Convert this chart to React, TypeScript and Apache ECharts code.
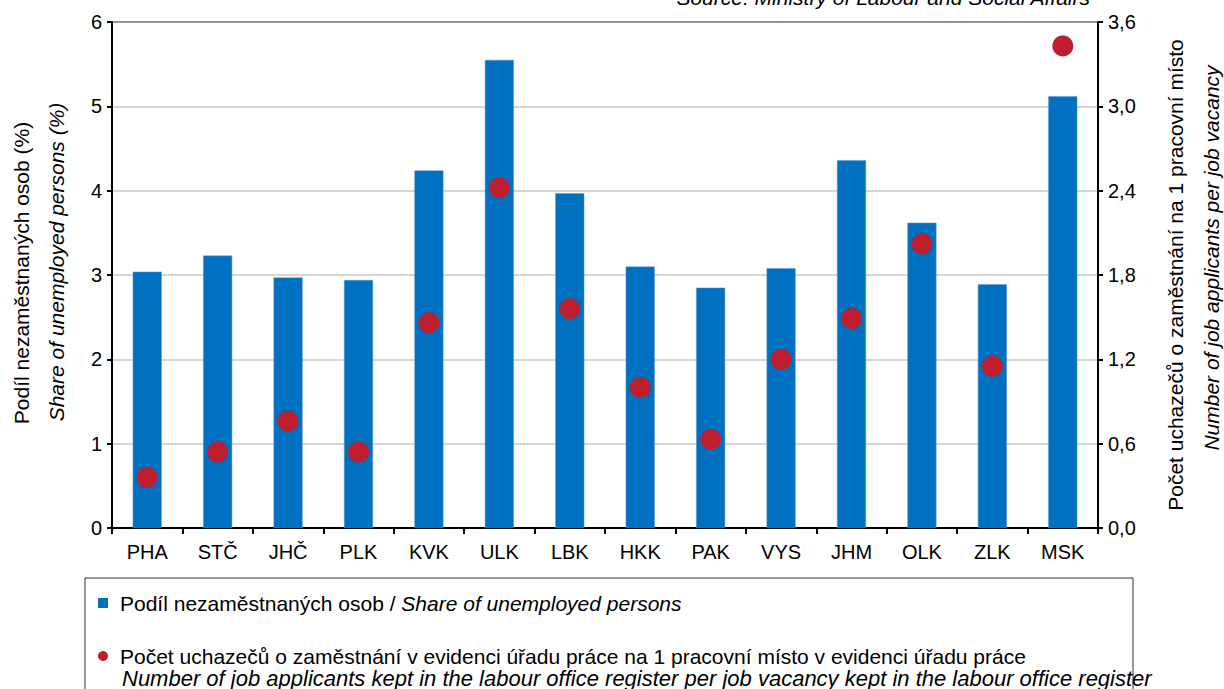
import React, { useEffect, useRef } from "react";
import * as echarts from "echarts";

const categories = ["PHA", "STČ", "JHČ", "PLK", "KVK", "ULK", "LBK", "HKK", "PAK", "VYS", "JHM", "OLK", "ZLK", "MSK"];
const shareUnemployed = [3.04, 3.23, 2.97, 2.94, 4.24, 5.55, 3.97, 3.10, 2.85, 3.08, 4.36, 3.62, 2.89, 5.12];
const applicantsPerVacancy = [0.36, 0.54, 0.76, 0.54, 1.46, 2.42, 1.56, 1.00, 0.63, 1.20, 1.49, 2.02, 1.15, 3.43];

const leftTitle = ["Podíl nezaměstnaných osob (%)", "Share of unemployed persons (%)"];
const rightTitle = ["Počet uchazečů o zaměstnání na 1 pracovní místo", "Number of job applicants per job vacancy"];
const legendBar = ["Podíl nezaměstnaných osob", " / ", "Share of unemployed persons"];
const legendDot = [
  "Počet uchazečů o zaměstnání v evidenci úřadu práce na 1 pracovní místo v evidenci úřadu práce",
  "Number of job applicants kept in the labour office register per job vacancy kept in the labour office register",
];
const sourceText = "Source: Ministry of Labour and Social Affairs";

const FONT = "'Liberation Sans', Arial, Helvetica, sans-serif";
const BLUE = "#0070C0";
const RED = "#BE1E2D";

export default function App() {
  const ref = useRef<HTMLDivElement>(null);
  useEffect(() => {
    if (!ref.current) return;
    const chart = echarts.init(ref.current, null, { renderer: "svg" });
    const fs = 21;
    const tfs = 20;
    chart.setOption({
      animation: false,
      backgroundColor: "#fff",
      textStyle: { fontFamily: FONT },
      grid: {
        left: 112,
        right: 126,
        top: 22,
        bottom: 161,
        show: true,
        borderColor: "#000",
        borderWidth: 2,
        backgroundColor: "transparent",
      },
      xAxis: {
        type: "category",
        data: categories,
        boundaryGap: true,
        axisLine: { lineStyle: { color: "#000", width: 2 } },
        axisTick: { show: true, length: 6, lineStyle: { color: "#000", width: 2 } },
        axisLabel: { color: "#000", fontSize: tfs, fontFamily: FONT, margin: 14 },
      },
      yAxis: [
        {
          type: "value",
          min: 0,
          max: 6,
          interval: 1,
          axisLine: { show: true, lineStyle: { color: "#000", width: 2 } },
          axisTick: { show: true, length: 5, lineStyle: { color: "#000", width: 2 } },
          axisLabel: { color: "#000", fontSize: tfs, fontFamily: FONT, margin: 10 },
          splitLine: { show: true, lineStyle: { color: "#C8C8C8", width: 1.5 } },
        },
        {
          type: "value",
          min: 0,
          max: 3.6,
          interval: 0.6,
          position: "right",
          axisLine: { show: true, lineStyle: { color: "#000", width: 2 } },
          axisTick: { show: true, length: 5, lineStyle: { color: "#000", width: 2 } },
          axisLabel: {
            color: "#000",
            fontSize: tfs,
            fontFamily: FONT,
            margin: 10,
            formatter: (v: number) => v.toFixed(1).replace(".", ","),
          },
          splitLine: { show: false },
        },
      ],
      series: [
        {
          name: "share",
          type: "bar",
          data: shareUnemployed,
          yAxisIndex: 0,
          barWidth: 29,
          itemStyle: { color: BLUE, borderColor: "#5B9BD5", borderWidth: 0.5 },
        },
        {
          name: "applicants",
          type: "scatter",
          data: applicantsPerVacancy,
          yAxisIndex: 1,
          symbol: "circle",
          symbolSize: 21,
          itemStyle: { color: RED, opacity: 1 },
          z: 5,
        },
      ],
      graphic: [
        {
          type: "text",
          x: 1090,
          y: -3,
          style: {
            text: sourceText,
            align: "right",
            verticalAlign: "middle",
            fontSize: fs,
            fontStyle: "italic",
            fontFamily: FONT,
            fill: "#000",
          },
        },
        {
          type: "text",
          x: 21,
          y: 273,
          rotation: Math.PI / 2,
          style: {
            text: leftTitle[0],
            align: "center",
            verticalAlign: "middle",
            fontSize: fs,
            fontFamily: FONT,
            fill: "#000",
          },
        },
        {
          type: "text",
          x: 56,
          y: 262,
          rotation: Math.PI / 2,
          style: {
            text: leftTitle[1],
            align: "center",
            verticalAlign: "middle",
            fontSize: fs,
            fontStyle: "italic",
            fontFamily: FONT,
            fill: "#000",
          },
        },
        {
          type: "text",
          x: 1175,
          y: 275,
          rotation: Math.PI / 2,
          style: {
            text: rightTitle[0],
            align: "center",
            verticalAlign: "middle",
            fontSize: fs,
            fontFamily: FONT,
            fill: "#000",
          },
        },
        {
          type: "text",
          x: 1211,
          y: 258,
          rotation: Math.PI / 2,
          style: {
            text: rightTitle[1],
            align: "center",
            verticalAlign: "middle",
            fontSize: fs,
            fontStyle: "italic",
            fontFamily: FONT,
            fill: "#000",
          },
        },
        {
          type: "rect",
          shape: { x: 85, y: 578, width: 1048, height: 130 },
          style: { fill: "#fff", stroke: "#333", lineWidth: 1 },
        },
        {
          type: "rect",
          shape: { x: 98, y: 598, width: 10, height: 10 },
          style: { fill: BLUE },
        },
        {
          type: "text",
          x: 120,
          y: 603,
          style: {
            text: `{n|${legendBar[0]}${legendBar[1]}}{i|${legendBar[2]}}`,
            verticalAlign: "middle",
            fontSize: fs,
            fontFamily: FONT,
            fill: "#000",
            rich: {
              n: { fontSize: fs, fontFamily: FONT, fill: "#000" },
              i: { fontSize: fs, fontFamily: FONT, fontStyle: "italic", fill: "#000" },
            },
          },
        },
        {
          type: "circle",
          shape: { cx: 103, cy: 656, r: 5 },
          style: { fill: RED },
        },
        {
          type: "text",
          x: 120,
          y: 656,
          style: {
            text: legendDot[0],
            verticalAlign: "middle",
            fontSize: fs,
            fontFamily: FONT,
            fill: "#000",
          },
        },
        {
          type: "text",
          x: 122,
          y: 678,
          style: {
            text: legendDot[1],
            verticalAlign: "middle",
            fontSize: 22,
            fontStyle: "italic",
            fontFamily: FONT,
            fill: "#000",
          },
        },
      ],
    });
    return () => chart.dispose();
  }, []);
  return <div ref={ref} style={{ position: "fixed", left: 0, top: 0, width: 1224, height: 689 }} />;
}
